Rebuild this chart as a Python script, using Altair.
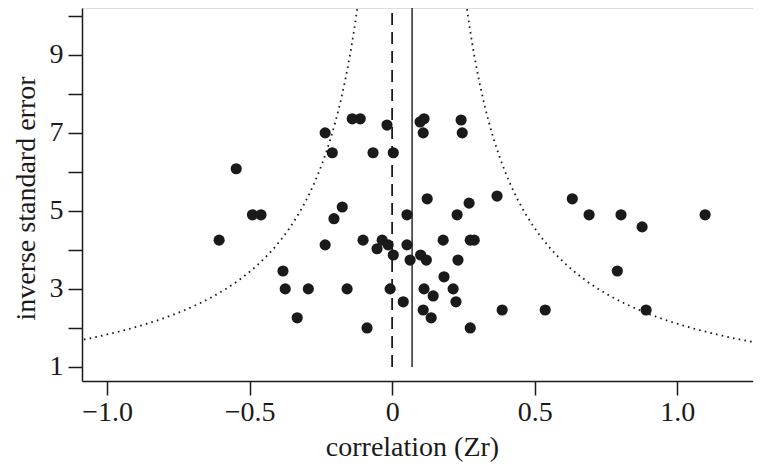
import altair as alt
import numpy as np
import pandas as pd

# ---- data ----
zr = [-0.547, -0.49, -0.46, -0.235, -0.21, -0.14, -0.112, -0.067, -0.175, -0.204,
      -0.607, -0.018, 0.004, 0.098, 0.112, 0.109, 0.242, 0.246, 0.123, 0.27,
      0.368, 0.228, 0.052, 0.632, 0.691, 0.803, 0.877, 1.098, 0.179, 0.274,
      0.288, -0.035, -0.014, 0.052, 0.004, 0.063, 0.10, 0.12, 0.231, 0.182,
      -0.007, 0.112, 0.144, 0.214, 0.224, 0.039, 0.109, 0.137, 0.274, 0.386,
      0.537, 0.79, 0.891, -0.235, -0.102, -0.053, -0.383, -0.375, -0.294, -0.158,
      -0.333, -0.088]
inv_se = [6.08, 4.90, 4.90, 7.00, 6.49, 7.36, 7.36, 6.49, 5.10, 4.80,
          4.25, 7.20, 6.49, 7.28, 7.36, 7.00, 7.33, 7.00, 5.31, 5.20,
          5.38, 4.90, 4.90, 5.31, 4.90, 4.90, 4.59, 4.90, 4.25, 4.25,
          4.25, 4.25, 4.13, 4.13, 3.87, 3.74, 3.87, 3.74, 3.74, 3.31,
          3.00, 3.00, 2.82, 3.00, 2.67, 2.67, 2.46, 2.26, 2.00, 2.46,
          2.46, 3.46, 2.46, 4.13, 4.25, 4.03, 3.46, 3.00, 3.00, 3.00,
          2.26, 2.00]
mean_zr = 0.07     # solid line (meta-analytic mean)
null_zr = 0.0      # dashed line
z_crit = 1.96      # funnel limits
x_ticks = [-1.0, -0.5, 0.0, 0.5, 1.0]
y_ticks = [1, 2, 3, 4, 5, 6, 7, 8, 9, 10]

X_DOM = [-1.088, 1.266]
Y_DOM = [0.64, 10.2]
FONT = "Liberation Serif"
INK = "#1a1a1a"

points = pd.DataFrame({"zr": zr, "inv_se": inv_se})

ys = np.linspace(1.45, Y_DOM[1], 400)
funnel = pd.concat([
    pd.DataFrame({"zr": mean_zr - z_crit / ys, "inv_se": ys, "side": "lower"}),
    pd.DataFrame({"zr": mean_zr + z_crit / ys, "inv_se": ys, "side": "upper"}),
])

null_df = pd.DataFrame({"zr": [null_zr], "y1": [1.0], "y2": [Y_DOM[1]]})
mean_df = pd.DataFrame({"zr": [mean_zr], "y1": [1.0], "y2": [Y_DOM[1]]})

xscale = alt.Scale(domain=X_DOM, nice=False, zero=False)
yscale = alt.Scale(domain=Y_DOM, nice=False, zero=False)

xaxis = alt.Axis(
    values=x_ticks, grid=False, title="correlation (Zr)",
    labelExpr="datum.value == 0 ? '0' : format(datum.value, '.1f')",
    domainColor=INK, domainWidth=1.5, tickColor=INK, tickWidth=1.5, tickSize=14,
    labelFont=FONT, labelFontSize=28, labelColor=INK, labelPadding=3,
    labelFlush=False, labelOverlap=False,
    titleFont=FONT, titleFontSize=28, titleFontWeight="normal", titleColor=INK,
    titleX=330, titleY=74, titleBaseline="alphabetic", titleAlign="center",
)
yaxis = alt.Axis(
    values=y_ticks, grid=False, title="inverse standard error",
    labelExpr="datum.value % 2 == 1 ? datum.value : ''",
    domainColor=INK, domainWidth=1.5, tickColor=INK, tickWidth=1.5, tickSize=14,
    labelFont=FONT, labelFontSize=28, labelColor=INK, labelPadding=5,
    labelFlush=False, labelOverlap=False,
    titleFont=FONT, titleFontSize=28, titleFontWeight="normal", titleColor=INK,
    titleAngle=270, titleX=-48, titleY=190, titleBaseline="alphabetic", titleAlign="center",
)

funnel_layer = alt.Chart(funnel).mark_line(
    clip=True, color=INK, strokeWidth=1.8, strokeDash=[1.6, 4.2]
).encode(
    x=alt.X("zr:Q", scale=xscale, axis=xaxis),
    y=alt.Y("inv_se:Q", scale=yscale, axis=yaxis),
    detail="side:N",
    order="inv_se:Q",
)

null_layer = alt.Chart(null_df).mark_rule(
    color=INK, strokeWidth=1.8, strokeDash=[12, 7]
).encode(x=alt.X("zr:Q", scale=xscale), y=alt.Y("y1:Q", scale=yscale), y2="y2:Q")

mean_layer = alt.Chart(mean_df).mark_rule(
    color=INK, strokeWidth=1.4
).encode(x=alt.X("zr:Q", scale=xscale), y=alt.Y("y1:Q", scale=yscale), y2="y2:Q")

point_layer = alt.Chart(points).mark_circle(
    size=125, color=INK, opacity=1
).encode(x=alt.X("zr:Q", scale=xscale), y=alt.Y("inv_se:Q", scale=yscale))

chart = alt.layer(funnel_layer, null_layer, mean_layer, point_layer).properties(
    width=671, height=373,
    autosize=alt.AutoSizeParams(type="none"),
    padding={"left": 74, "top": 0, "right": 0, "bottom": 82},
).configure_view(stroke=None, strokeWidth=0).configure(background="white")

chart.save("out.html", embed_options={"renderer": "svg", "actions": False})
